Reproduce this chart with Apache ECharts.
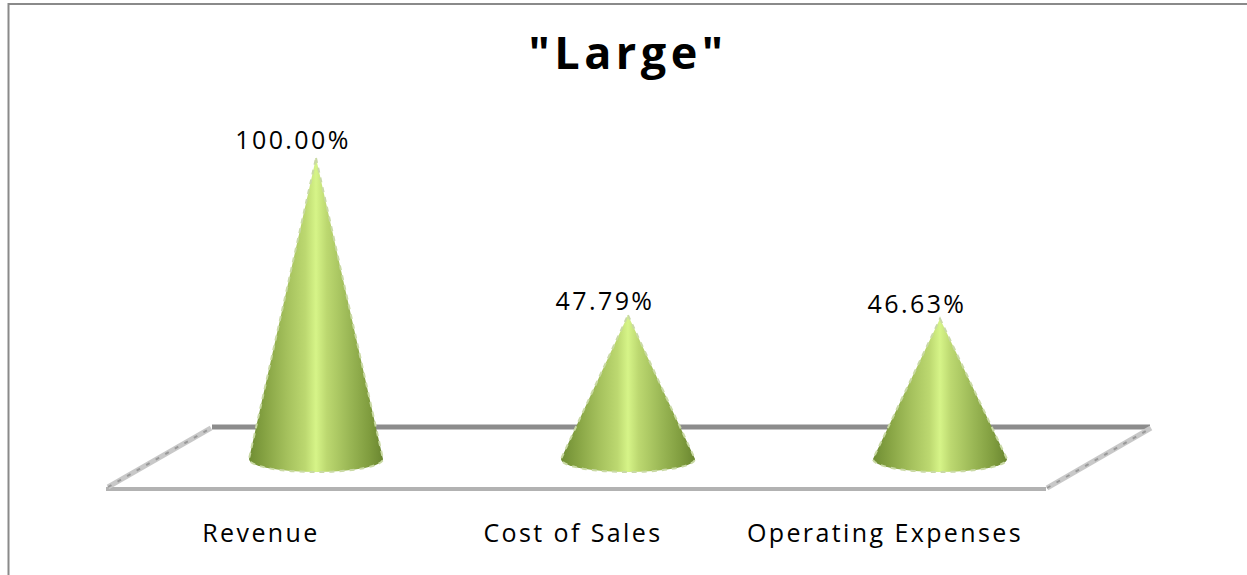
<!DOCTYPE html>
<html><head><meta charset="utf-8">
<style>
html,body{margin:0;padding:0;background:#fff;overflow:hidden}
#c{width:1247px;height:575px}
#c svg text{letter-spacing:2.4px}
#c svg text[style*="bold"]{letter-spacing:4.5px}
</style>
<script src="https://cdn.jsdelivr.net/npm/echarts@6/dist/echarts.min.js"></script>
</head><body><div id="c"></div>
<script>
const chartTitle = '"Large"';
const categories = ['Revenue', 'Cost of Sales', 'Operating Expenses'];
const shares = [100.00, 47.79, 46.63];

const chart = echarts.init(document.getElementById('c'), null, {renderer: 'svg'});

const coneFill = new echarts.graphic.LinearGradient(0, 0, 1, 0, [
  {offset: 0, color: '#6f8d33'},
  {offset: 0.12, color: '#86a343'},
  {offset: 0.28, color: '#a4c05c'},
  {offset: 0.42, color: '#bcd870'},
  {offset: 0.50, color: '#d6f488'},
  {offset: 0.58, color: '#bcd870'},
  {offset: 0.75, color: '#9ab755'},
  {offset: 0.90, color: '#7f9c3e'},
  {offset: 1, color: '#6a8630'}
]);

// Cone: apex at the value, elliptical foot sitting on the axis baseline.
function renderCone(params, api) {
  const apex = api.coord([api.value(0), api.value(1)]);
  const foot = api.coord([api.value(0), 0]);
  const rx = 67, ry = 13;
  const d = `M${apex[0]},${apex[1]} L${foot[0] + rx},${foot[1]} ` +
            `A${rx},${ry} 0 0 1 ${foot[0] - rx},${foot[1]} Z`;
  return {
    type: 'path',
    shape: {pathData: d},
    style: {fill: coneFill, stroke: '#c9d9a4', lineWidth: 2, lineDash: [5, 5]}
  };
}

const labelFont = 'Open Sans';

chart.setOption({
  animation: false,
  backgroundColor: '#fff',
  title: {
    text: chartTitle, left: 623, top: 24, textAlign: 'center',
    textStyle: {fontFamily: 'Open Sans', fontWeight: 'bold', fontSize: 45, color: '#000'}
  },
  grid: {left: 160, right: 151, top: 158, bottom: 116},
  xAxis: {
    type: 'category', data: categories,
    axisLine: {show: false}, axisTick: {show: false}, splitLine: {show: false},
    axisLabel: {
      interval: 0, margin: 60, padding: [0, 110, 0, 0],
      fontFamily: labelFont, fontSize: 25, color: '#000'
    }
  },
  yAxis: {type: 'value', min: 0, max: 100, show: false},
  series: [{
    type: 'custom',
    coordinateSystem: 'cartesian2d',
    renderItem: renderCone,
    encode: {x: 0, y: 1},
    data: categories.map((c, i) => [i, shares[i]]),
    z: 5
  }, {
    // Value captions above each apex; the tallest one sits a little higher
    type: 'scatter',
    symbolSize: 0,
    itemStyle: {opacity: 1},
    data: categories.map((c, i) => ({
      value: [i, shares[i]],
      label: {offset: [-23, i === 0 ? -4 : 0]}
    })),
    label: {
      show: true, position: 'top', distance: 3,
      fontFamily: labelFont, fontSize: 25, color: '#000',
      formatter: p => p.value[1].toFixed(2) + '%'
    },
    z: 6
  }],
  graphic: [
    // Chart-area border, open at the right and bottom edges
    {type: 'polyline', shape: {points: [[8.5, 575], [8.5, 4], [1247, 4]]},
     style: {fill: 'none', stroke: '#8a8a8a', lineWidth: 2}, z: 0},
    // Chart floor
    {type: 'line', shape: {x1: 212, y1: 427, x2: 1150, y2: 427},
     style: {stroke: '#8c8c8c', lineWidth: 5}, z: 1},
    {type: 'line', shape: {x1: 106, y1: 489, x2: 1046, y2: 489},
     style: {stroke: '#b2b2b2', lineWidth: 4}, z: 1},
    {type: 'line', shape: {x1: 108, y1: 487, x2: 211, y2: 428},
     style: {stroke: '#c8c8c8', lineWidth: 5}, z: 1},
    {type: 'line', shape: {x1: 108, y1: 487, x2: 211, y2: 428},
     style: {stroke: '#999', lineWidth: 2, lineDash: [4, 7]}, z: 1},
    {type: 'line', shape: {x1: 1047, y1: 488, x2: 1151, y2: 428},
     style: {stroke: '#c8c8c8', lineWidth: 5}, z: 1},
    {type: 'line', shape: {x1: 1047, y1: 488, x2: 1151, y2: 428},
     style: {stroke: '#999', lineWidth: 2, lineDash: [4, 7]}, z: 1}
  ]
});
</script></body></html>
